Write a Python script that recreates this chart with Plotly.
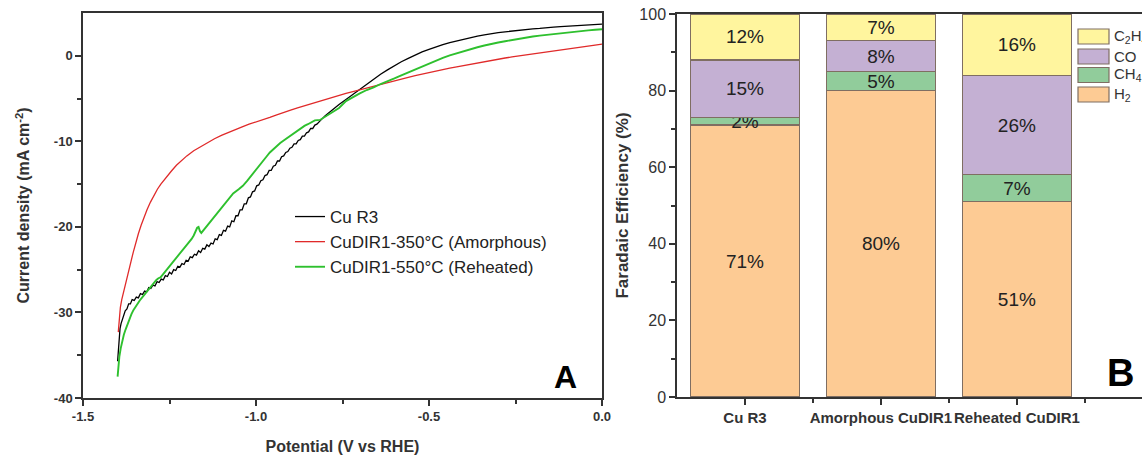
import plotly.graph_objects as go

# ---------------- data: panel A (LSV curves) ----------------
cu_r3_v = [-1.400, -1.398, -1.396, -1.393, -1.390, -1.386, -1.382, -1.378, -1.373, -1.368,
           -1.363, -1.358, -1.352, -1.346, -1.340, -1.334, -1.328, -1.322, -1.316, -1.310,
           -1.304, -1.298, -1.292, -1.286, -1.280, -1.274, -1.268, -1.262, -1.256, -1.250,
           -1.244, -1.238, -1.232, -1.226, -1.220, -1.214, -1.208, -1.202, -1.196, -1.190,
           -1.184, -1.178, -1.172, -1.166, -1.160, -1.154, -1.148, -1.142, -1.136, -1.130,
           -1.124, -1.118, -1.112, -1.106, -1.100, -1.094, -1.088, -1.082, -1.076, -1.070,
           -1.064, -1.058, -1.052, -1.046, -1.040, -1.034, -1.028, -1.022, -1.016, -1.010,
           -1.004, -0.998, -0.992, -0.986, -0.980, -0.974, -0.968, -0.962, -0.956, -0.950,
           -0.944, -0.938, -0.932, -0.926, -0.920, -0.914, -0.908, -0.902, -0.896, -0.890,
           -0.884, -0.878, -0.872, -0.866, -0.860, -0.854, -0.848, -0.842, -0.836, -0.830,
           -0.824, -0.818, -0.810, -0.800, -0.78, -0.76, -0.74, -0.72, -0.70, -0.68,
           -0.66, -0.64, -0.62, -0.60, -0.58, -0.56, -0.54, -0.52, -0.50, -0.48,
           -0.46, -0.44, -0.42, -0.40, -0.38, -0.36, -0.34, -0.32, -0.30, -0.28,
           -0.26, -0.24, -0.22, -0.20, -0.18, -0.16, -0.14, -0.12, -0.10, -0.08,
           -0.06, -0.04, -0.02, 0.00]
cu_r3_j = [-35.7, -34.6, -33.2, -31.9, -31.3, -30.7, -30.3, -29.8, -29.6, -29.0,
           -29.0, -28.5, -28.6, -28.2, -28.3, -27.8, -27.9, -27.5, -27.6, -27.1,
           -27.2, -26.8, -26.9, -26.4, -26.5, -26.1, -26.2, -25.7, -25.8, -25.3,
           -25.5, -25.0, -25.1, -24.6, -24.7, -24.3, -24.4, -23.9, -24.0, -23.5,
           -23.6, -23.2, -23.3, -22.8, -23.0, -22.5, -22.6, -22.1, -22.3, -21.9,
           -22.0, -21.4, -21.5, -20.9, -21.0, -20.4, -20.5, -19.9, -20.0, -19.3,
           -19.4, -18.7, -18.7, -18.0, -18.0, -17.3, -17.3, -16.6, -16.5, -15.9,
           -15.8, -15.2, -15.1, -14.6, -14.5, -14.0, -13.9, -13.4, -13.4, -12.9,
           -12.8, -12.3, -12.3, -11.8, -11.7, -11.3, -11.2, -10.8, -10.7, -10.3,
           -10.3, -9.9, -9.8, -9.4, -9.4, -9.0, -8.9, -8.5, -8.5, -8.1,
           -8.0, -7.7, -7.4, -7.0, -6.3, -5.7, -5.1, -4.5, -3.9, -3.3,
           -2.7, -2.15, -1.65, -1.15, -0.7, -0.3, 0.1, 0.45, 0.75, 1.05,
           1.3, 1.55, 1.75, 1.95, 2.15, 2.3, 2.45, 2.6, 2.7, 2.8,
           2.9, 3.0, 3.05, 3.15, 3.2, 3.3, 3.35, 3.4, 3.45, 3.5,
           3.55, 3.6, 3.65, 3.7]

amorphous_v = [-1.398, -1.395, -1.392, -1.388, -1.383, -1.378, -1.373, -1.367, -1.361, -1.355,
               -1.348, -1.340, -1.332, -1.324, -1.315, -1.305, -1.295, -1.285, -1.275, -1.260,
               -1.245, -1.230, -1.215, -1.200, -1.180, -1.160, -1.140, -1.120, -1.100, -1.080,
               -1.060, -1.040, -1.020, -1.000, -0.980, -0.960, -0.940, -0.920, -0.900, -0.880,
               -0.860, -0.840, -0.820, -0.800, -0.780, -0.760, -0.740, -0.720, -0.700, -0.680,
               -0.660, -0.640, -0.620, -0.600, -0.580, -0.560, -0.540, -0.520, -0.500, -0.480,
               -0.460, -0.440, -0.420, -0.400, -0.380, -0.360, -0.340, -0.320, -0.300, -0.280,
               -0.260, -0.240, -0.220, -0.200, -0.180, -0.160, -0.140, -0.120, -0.100, -0.080,
               -0.060, -0.040, -0.020, 0.000]
amorphous_j = [-32.3, -30.5, -29.4, -28.5, -27.6, -26.9, -26.1, -25.1, -24.0, -23.0,
               -21.9, -20.8, -19.8, -18.9, -18.0, -17.1, -16.3, -15.6, -15.0, -14.2,
               -13.5, -12.8, -12.2, -11.7, -11.1, -10.6, -10.1, -9.7, -9.3, -8.95,
               -8.6, -8.3, -8.0, -7.75, -7.5, -7.2, -6.9, -6.6, -6.35, -6.1,
               -5.85, -5.6, -5.35, -5.1, -4.85, -4.65, -4.4, -4.2, -3.98, -3.76,
               -3.55, -3.33, -3.12, -2.92, -2.72, -2.52, -2.32, -2.13, -1.96, -1.79,
               -1.62, -1.45, -1.29, -1.13, -0.97, -0.82, -0.68, -0.54, -0.38, -0.26,
               -0.13, -0.01, 0.12, 0.25, 0.37, 0.48, 0.59, 0.70, 0.81, 0.92,
               1.03, 1.14, 1.25, 1.36]

reheated_v = [-1.400, -1.398, -1.395, -1.391, -1.387, -1.382, -1.377, -1.372, -1.366, -1.360,
              -1.354, -1.348, -1.342, -1.336, -1.330, -1.324, -1.318, -1.312, -1.306, -1.300,
              -1.294, -1.288, -1.282, -1.276, -1.270, -1.264, -1.258, -1.252, -1.246, -1.240,
              -1.234, -1.228, -1.222, -1.216, -1.210, -1.204, -1.198, -1.192, -1.186, -1.180,
              -1.175, -1.170, -1.166, -1.162, -1.158, -1.154, -1.148, -1.142, -1.136, -1.130,
              -1.124, -1.116, -1.108, -1.100, -1.090, -1.080, -1.066, -1.050, -1.038, -1.025,
              -1.010, -1.000, -0.990, -0.980, -0.970, -0.960, -0.950, -0.940, -0.930, -0.920,
              -0.910, -0.900, -0.890, -0.880, -0.870, -0.860, -0.850, -0.840, -0.830, -0.815,
              -0.800, -0.780, -0.760, -0.740, -0.720, -0.700, -0.680, -0.660, -0.640, -0.620,
              -0.600, -0.580, -0.560, -0.540, -0.520, -0.500, -0.480, -0.460, -0.440, -0.420,
              -0.400, -0.380, -0.360, -0.340, -0.320, -0.300, -0.280, -0.260, -0.240, -0.220,
              -0.200, -0.180, -0.160, -0.140, -0.120, -0.100, -0.080, -0.060, -0.040, -0.020,
              0.000]
reheated_j = [-37.5, -36.3, -35.2, -34.2, -33.4, -32.6, -32.0, -31.4, -30.8, -30.2,
              -29.7, -29.3, -28.9, -28.6, -28.3, -28.0, -27.7, -27.3, -27.0, -26.7,
              -26.4, -26.2, -26.0, -25.9, -25.6, -25.3, -25.0, -24.7, -24.4, -24.1,
              -23.8, -23.5, -23.2, -22.9, -22.7, -22.4, -22.1, -21.8, -21.4, -21.0,
              -20.6, -20.1, -20.0, -20.5, -20.7, -20.5, -20.2, -20.0, -19.7, -19.4,
              -19.1, -18.7, -18.2, -17.8, -17.3, -16.8, -16.1, -15.6, -15.2, -14.6,
              -13.8, -13.3, -12.8, -12.3, -11.8, -11.3, -10.9, -10.5, -10.2, -9.9,
              -9.6, -9.3, -9.0, -8.7, -8.5, -8.2, -8.0, -7.8, -7.55, -7.5,
              -7.1, -6.6, -6.1, -5.3, -4.8, -4.4, -4.0, -3.7, -3.3, -3.0,
              -2.65, -2.3, -1.95, -1.6, -1.25, -0.9, -0.55, -0.25, 0.05, 0.3,
              0.55, 0.8, 1.0, 1.2, 1.4, 1.55, 1.7, 1.85, 2.0, 2.1,
              2.25, 2.35, 2.45, 2.55, 2.65, 2.75, 2.82, 2.9, 2.97, 3.04,
              3.1]

curve_names = ["Cu R3", "CuDIR1-350°C (Amorphous)", "CuDIR1-550°C (Reheated)"]
potential_tick_vals = [-1.5, -1.0, -0.5, 0.0]
potential_tick_text = ["-1.5", "-1.0", "-0.5", "0.0"]
current_tick_vals = [-40, -30, -20, -10, 0]
current_tick_text = ["-40", "-30", "-20", "-10", "0"]

# ---------------- data: panel B (Faradaic efficiency) ----------------
catalysts = ["Cu R3", "Amorphous CuDIR1", "Reheated CuDIR1"]
fe_h2 = [71, 80, 51]
fe_ch4 = [2, 5, 7]
fe_co = [15, 8, 26]
fe_c2h4 = [12, 7, 16]
product_labels = ["H<sub>2</sub>", "CH<sub>4</sub>", "CO", "C<sub>2</sub>H<sub>4</sub>"]
fe_tick_vals = [0, 20, 40, 60, 80, 100]

# ---------------- styling ----------------
W, H = 1142, 455
FONT = "Liberation Sans, Arial, sans-serif"
AX = "#333333"
curve_colors = ["#000000", "#E02A2A", "#2EC02E"]
curve_widths = [1.3, 1.3, 1.9]
bar_colors = ["#FDCB94", "#91CC9B", "#C4B0D3", "#FFF59E"]
bar_edge = "#7F6E62"


def px_x(p):
    return p / W


def px_y(p):
    return 1 - p / H


fig = go.Figure()

for v, j, name, c, w in zip([cu_r3_v, amorphous_v, reheated_v],
                            [cu_r3_j, amorphous_j, reheated_j],
                            curve_names, curve_colors, curve_widths):
    fig.add_trace(go.Scatter(x=v, y=j, mode="lines", name=name,
                             line=dict(color=c, width=w),
                             xaxis="x", yaxis="y", showlegend=True))

x_idx = list(range(len(catalysts)))
for vals, lab, col in zip([fe_h2, fe_ch4, fe_co, fe_c2h4], product_labels, bar_colors):
    fig.add_trace(go.Bar(x=x_idx, y=vals, name=lab, width=0.8,
                         marker=dict(color=col, line=dict(color=bar_edge, width=1.2)),
                         text=[f"{v}%" for v in vals], textposition="inside",
                         insidetextanchor="middle", textangle=0,
                         textfont=dict(family=FONT, size=19, color="#222222"),
                         xaxis="x2", yaxis="y2", showlegend=False))

tick_font_bold = dict(family=FONT, size=13, color=AX, weight="bold")

fig.update_layout(
    width=W, height=H,
    margin=dict(l=0, r=0, t=0, b=0, autoexpand=False),
    paper_bgcolor="white", plot_bgcolor="white",
    barmode="stack",
    uniformtext=dict(minsize=19, mode="show"),
    font=dict(family=FONT, color=AX),
    xaxis=dict(domain=[83 / W, 602 / W], range=[-1.5, 0], anchor="y", automargin=False,
               tickvals=potential_tick_vals, ticktext=potential_tick_text,
               ticks="outside", ticklen=6, tickwidth=1.5, tickcolor=AX,
               minor=dict(tickvals=[-1.25, -0.75, -0.25], ticks="outside", ticklen=4,
                          tickwidth=1.5, tickcolor=AX),
               showline=True, linecolor=AX, linewidth=1.5, mirror=True,
               showgrid=False, zeroline=False, tickfont=tick_font_bold,
               title=dict(text="Potential (V vs RHE)", standoff=17,
                          font=dict(family=FONT, size=16, color=AX, weight="bold"))),
    yaxis=dict(domain=[1 - 398 / H, 1 - 13 / H], range=[-40, 5], anchor="x", automargin=False,
               tickvals=current_tick_vals, ticktext=current_tick_text,
               ticks="outside", ticklen=6, tickwidth=1.5, tickcolor=AX,
               minor=dict(tickvals=[-35, -25, -15, -5], ticks="outside", ticklen=4,
                          tickwidth=1.5, tickcolor=AX),
               showline=True, linecolor=AX, linewidth=1.5, mirror=True,
               showgrid=False, zeroline=False, tickfont=tick_font_bold,
               title=dict(text="Current density (mA cm<sup>-2</sup>)", standoff=20,
                          font=dict(family=FONT, size=16, color=AX, weight="bold"))),
    xaxis2=dict(domain=[677 / W, 1.0], range=[-0.5, 2.92], anchor="y2", automargin=False,
                tickvals=x_idx, ticktext=catalysts, tickangle=0,
                ticks="outside", ticklen=6, tickwidth=1.5, tickcolor=AX,
                minor=dict(tickvals=[0.5, 1.5, 2.5], ticks="outside", ticklen=4,
                           tickwidth=1.5, tickcolor=AX),
                showline=True, linecolor=AX, linewidth=1.5, mirror=True,
                showgrid=False, zeroline=False,
                tickfont=dict(family=FONT, size=15, color=AX, weight="bold")),
    yaxis2=dict(domain=[1 - 397 / H, 1 - 14 / H], range=[0, 100], anchor="x2", automargin=False,
                tickvals=fe_tick_vals,
                ticks="outside", ticklen=6, tickwidth=1.5, tickcolor=AX,
                minor=dict(tickvals=[10, 30, 50, 70, 90], ticks="outside", ticklen=4,
                           tickwidth=1.5, tickcolor=AX),
                showline=True, linecolor=AX, linewidth=1.5, mirror=False,
                showgrid=False, zeroline=False,
                tickfont=dict(family=FONT, size=16, color=AX),
                title=dict(text="Faradaic Efficiency (%)", standoff=6,
                           font=dict(family=FONT, size=17, color=AX, weight="bold"))),
    legend=dict(x=px_x(290), y=px_y(199), xanchor="left", yanchor="top",
                traceorder="normal",
                bgcolor="rgba(0,0,0,0)", borderwidth=0,
                font=dict(family=FONT, size=17, color="#222222"),
                tracegroupgap=0),
)

# manual legend for panel B (top to bottom: C2H4, CO, CH4, H2)
legend_rows = [(36.5, 3), (56.5, 2), (75.0, 1), (94.5, 0)]
for cy, k in legend_rows:
    fig.add_shape(type="rect", xref="paper", yref="paper",
                  x0=px_x(1078), x1=px_x(1109), y0=px_y(cy + 7.5), y1=px_y(cy - 7.5),
                  fillcolor=bar_colors[k], line=dict(color=bar_edge, width=1.2))
    fig.add_annotation(xref="paper", yref="paper", x=px_x(1112), y=px_y(cy),
                       xanchor="left", yanchor="middle", showarrow=False,
                       text=product_labels[k],
                       font=dict(family=FONT, size=15, color=AX))

# panel letters
fig.add_annotation(xref="paper", yref="paper", x=px_x(565), y=px_y(377),
                   xanchor="center", yanchor="middle", showarrow=False, text="<b>A</b>",
                   font=dict(family=FONT, size=32, color="#000000"))
fig.add_annotation(xref="paper", yref="paper", x=px_x(1120), y=px_y(373),
                   xanchor="center", yanchor="middle", showarrow=False, text="<b>B</b>",
                   font=dict(family=FONT, size=38, color="#000000"))

fig.write_html("out.html", config={"displayModeBar": False},
               post_script="document.body.style.margin='0px';document.body.style.padding='0px';")
